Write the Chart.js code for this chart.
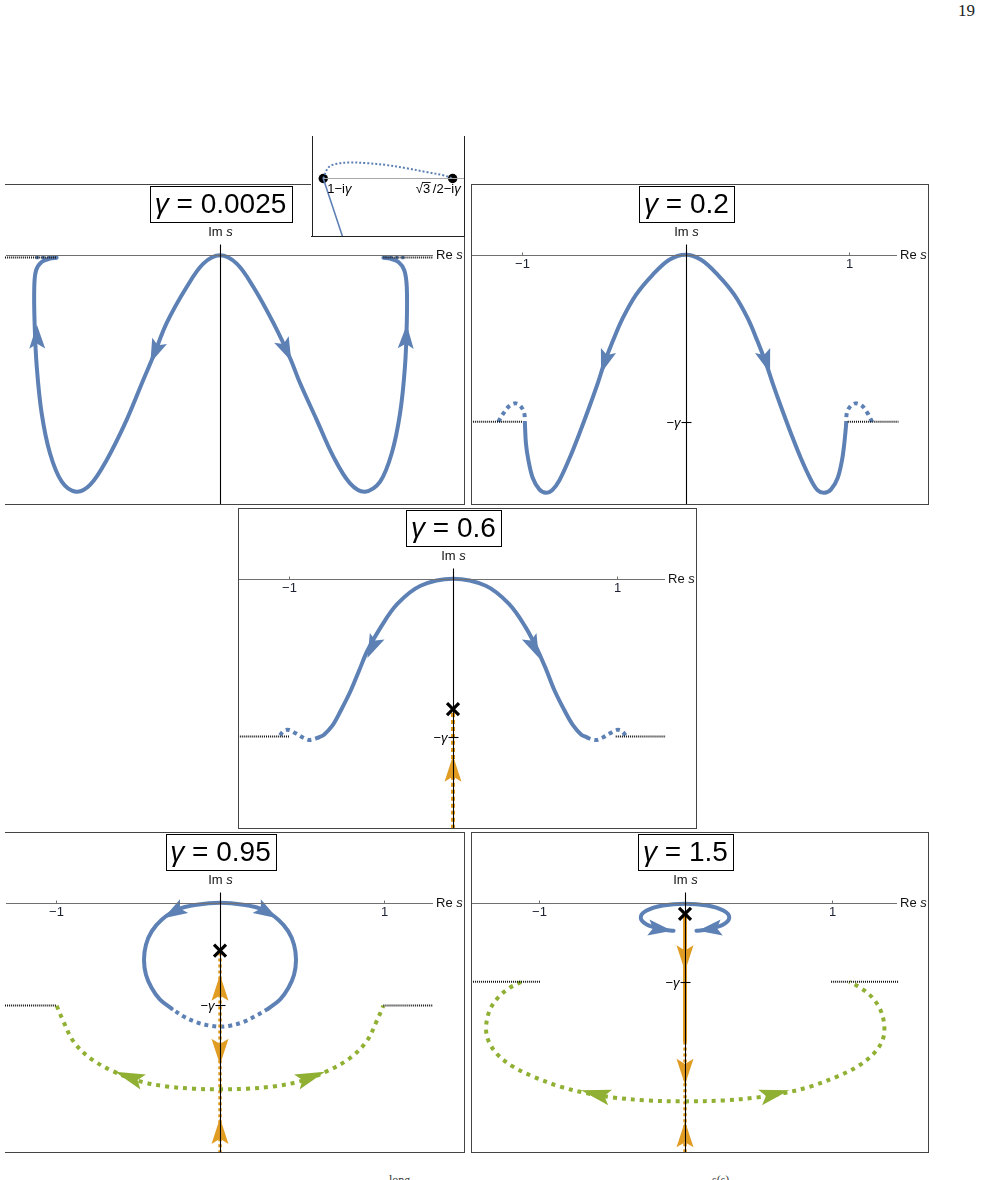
<!DOCTYPE html>
<html>
<head>
<meta charset="utf-8">
<script src="https://cdn.jsdelivr.net/npm/chart.js@4.4.1/dist/chart.umd.min.js"></script>
<style>
html, body { margin: 0; padding: 0; background: #fff; }
body { width: 982px; height: 1180px; position: relative; overflow: hidden; }
canvas { position: absolute; }
#pageno { position: absolute; left: 940px; top: 1px; width: 35px; text-align: right; font: 17px "Liberation Serif", "DejaVu Serif", serif; color: #222; }
.cut { position: absolute; font: 12px "Liberation Serif", serif; color: #333; line-height: 12px; }
</style>
</head>
<body>
<div id="pageno">19</div>
<canvas id="p1" width="460" height="321" style="left:5px;top:184px"></canvas>
<canvas id="p2" width="458" height="321" style="left:471px;top:184px"></canvas>
<canvas id="p3" width="459" height="321" style="left:238px;top:508px"></canvas>
<canvas id="p4" width="460" height="321" style="left:5px;top:832px"></canvas>
<canvas id="p5" width="458" height="321" style="left:471px;top:832px"></canvas>
<canvas id="inset" width="154" height="101" style="left:311px;top:136px;background:#fff"></canvas>
<div class="cut" style="left:389px;top:1174px">long</div>
<div class="cut" style="left:712px;top:1174px">s(s)</div>
<script>
// ---- values (Re s, Im s) ----
const gammas = [0.0025, 0.2, 0.6, 0.95, 1.5];
const titleLabels = ['0.0025', '0.2', '0.6', '0.95', '1.5'];
const reTicks = [-1, 1];
const reTickLabels = ['\u22121', '1'];

// gamma = 0.0025
const p1Curve = [[-0.999,-0.003],[-1.040,-0.004],[-1.091,-0.008],[-1.125,-0.018],[-1.136,-0.038],[-1.134,-0.081],[-1.121,-0.133],[-1.091,-0.189],[-1.040,-0.237],[-0.968,-0.271],[-0.881,-0.283],[-0.795,-0.275],[-0.693,-0.245],[-0.571,-0.197],[-0.469,-0.149],[-0.408,-0.121],[-0.326,-0.081],[-0.204,-0.038],[-0.102,-0.010],[0,0],[0.102,-0.010],[0.204,-0.038],[0.326,-0.081],[0.428,-0.123],[0.489,-0.153],[0.591,-0.197],[0.693,-0.241],[0.795,-0.273],[0.887,-0.283],[0.979,-0.271],[1.050,-0.237],[1.101,-0.189],[1.131,-0.133],[1.142,-0.081],[1.142,-0.038],[1.127,-0.018],[1.091,-0.008],[1.040,-0.004],[0.999,-0.003]];
const p1DotL = [[-0.999,-0.0025],[-1.13,-0.0025]];
const p1DotR = [[0.999,-0.0025],[1.13,-0.0025]];
const p1CutL = [[-1.315,-0.0025],[-0.999,-0.0025]];
const p1CutR = [[0.999,-0.0025],[1.305,-0.0025]];
const p1Arrows = [[-1.12,-0.083,-1.118,-0.113],[-0.426,-0.129,-0.375,-0.105],[0.436,-0.127,0.385,-0.105],[1.142,-0.083,1.135,-0.113]];

// gamma = 0.2
const p2Curve = [[-0.982,-0.204],[-0.976,-0.226],[-0.961,-0.246],[-0.935,-0.267],[-0.894,-0.281],[-0.853,-0.285],[-0.816,-0.282],[-0.771,-0.270],[-0.710,-0.244],[-0.649,-0.214],[-0.588,-0.182],[-0.537,-0.154],[-0.497,-0.130],[-0.446,-0.104],[-0.384,-0.076],[-0.303,-0.048],[-0.201,-0.024],[-0.099,-0.006],[0,0],[0.095,-0.006],[0.197,-0.024],[0.299,-0.048],[0.380,-0.076],[0.441,-0.104],[0.492,-0.130],[0.533,-0.154],[0.584,-0.182],[0.645,-0.214],[0.706,-0.244],[0.768,-0.270],[0.808,-0.282],[0.849,-0.285],[0.890,-0.281],[0.931,-0.267],[0.957,-0.246],[0.971,-0.226],[0.982,-0.204]];
const p2DotL = [[-0.982,-0.204],[-0.986,-0.190],[-1.006,-0.182],[-1.037,-0.178],[-1.077,-0.181],[-1.114,-0.190],[-1.145,-0.200]];
const p2DotR = [[0.982,-0.204],[0.986,-0.190],[1.006,-0.182],[1.039,-0.178],[1.080,-0.181],[1.114,-0.190],[1.141,-0.200]];
const p2CutL = [[-1.312,-0.2],[-0.996,-0.2]];
const p2CutR = [[0.992,-0.2],[1.302,-0.2]];
const p2Arrows = [[-0.517,-0.142,-0.475,-0.117],[0.517,-0.142,0.475,-0.117]];

// gamma = 0.6
const p3Curve = [[-0.819,-0.603],[-0.788,-0.593],[-0.737,-0.559],[-0.686,-0.502],[-0.625,-0.426],[-0.574,-0.350],[-0.523,-0.274],[-0.442,-0.185],[-0.340,-0.096],[-0.198,-0.027],[0,0],[0.200,-0.027],[0.342,-0.096],[0.444,-0.185],[0.519,-0.274],[0.572,-0.350],[0.621,-0.426],[0.682,-0.502],[0.735,-0.559],[0.784,-0.593],[0.817,-0.603]];
const p3DotL = [[-0.819,-0.603],[-0.849,-0.610],[-0.880,-0.613],[-0.920,-0.603],[-0.961,-0.588],[-1.002,-0.575],[-1.032,-0.578],[-1.063,-0.600]];
const p3DotR = [[0.817,-0.603],[0.845,-0.610],[0.878,-0.613],[0.918,-0.603],[0.959,-0.588],[1.000,-0.575],[1.028,-0.578],[1.061,-0.600]];
const p3CutL = [[-1.313,-0.6],[-1.002,-0.6]];
const p3CutR = [[0.994,-0.6],[1.30,-0.6]];
const p3Arrows = [[-0.523,-0.302,-0.462,-0.217],[0.525,-0.302,0.464,-0.217]];
const p3Cross = [[0,-0.496]];
const p3Orange = [[0,-0.51],[0,-0.952]];
const p3OrangeArrows = [[0,-0.673,0,-0.774]];

// gamma = 0.95
const p4Loop = [[-0.295,-0.981],[-0.366,-0.898],[-0.417,-0.790],[-0.452,-0.667],[-0.464,-0.528],[-0.452,-0.389],[-0.417,-0.265],[-0.356,-0.157],[-0.265,-0.065],[-0.142,-0.019],[0,0],[0.142,-0.019],[0.265,-0.065],[0.356,-0.157],[0.417,-0.265],[0.452,-0.389],[0.464,-0.528],[0.452,-0.667],[0.417,-0.790],[0.366,-0.898],[0.295,-0.981]];
const p4LoopDots = [[0.295,-0.981],[0.224,-1.043],[0.142,-1.105],[0.061,-1.139],[0,-1.148],[-0.061,-1.139],[-0.142,-1.108],[-0.224,-1.052],[-0.295,-0.981]];
const p4Green = [[-0.997,-0.954],[-0.956,-1.099],[-0.895,-1.284],[-0.794,-1.438],[-0.651,-1.562],[-0.488,-1.654],[-0.326,-1.701],[-0.163,-1.722],[0,-1.728],[0.163,-1.722],[0.326,-1.701],[0.488,-1.654],[0.651,-1.562],[0.794,-1.438],[0.895,-1.284],[0.956,-1.099],[0.997,-0.954]];
const p4CutL = [[-1.313,-0.951],[-0.997,-0.951]];
const p4CutR = [[0.997,-0.951],[1.302,-0.951]];
const p4Arrows = [[-0.345,-0.145,-0.24,-0.05],[0.35,-0.145,0.245,-0.05]];
const p4GreenArrows = [[-0.641,-1.565,-0.47,-1.66],[0.641,-1.565,0.47,-1.66]];
const p4Cross = [[0,-0.444]];
const p4Orange = [[0,-0.46],[0,-2.318]];
const p4OrangeArrows = [[0,-0.667,0,-0.867],[0,-1.50,0,-1.253],[0,-1.994,0,-2.225]];

// gamma = 1.5
const p5Loop = [[-0.078,-0.534],[-0.151,-0.508],[-0.262,-0.412],[-0.302,-0.281],[-0.262,-0.150],[-0.151,-0.054],[0,-0.019],[0.151,-0.054],[0.262,-0.150],[0.302,-0.281],[0.262,-0.412],[0.151,-0.508],[0.078,-0.534]];
const p5Green = [[-1.119,-1.505],[-1.199,-1.619],[-1.279,-1.809],[-1.336,-2.062],[-1.358,-2.378],[-1.340,-2.631],[-1.279,-2.884],[-1.176,-3.106],[-1.040,-3.295],[-0.858,-3.485],[-0.676,-3.612],[-0.494,-3.694],[-0.266,-3.751],[0,-3.770],[0.268,-3.751],[0.496,-3.694],[0.678,-3.612],[0.860,-3.485],[1.042,-3.295],[1.179,-3.106],[1.281,-2.884],[1.345,-2.631],[1.361,-2.378],[1.338,-2.062],[1.281,-1.809],[1.201,-1.619],[1.122,-1.505]];
const p5CutL = [[-1.461,-1.5],[-0.99,-1.5]];
const p5CutR = [[0.997,-1.5],[1.456,-1.5]];
const p5Arrows = [[-0.088,-0.532,-0.2,-0.49],[0.088,-0.532,0.2,-0.49]];
const p5GreenArrows = [[-0.71,-3.56,-0.52,-3.69],[0.712,-3.56,0.52,-3.69]];
const p5Cross = [[0,-0.21]];
const p5OrangeSolid = [[0,-0.23],[0,-2.63]];
const p5OrangeDots = [[0,-2.63],[0,-4.75]];
const p5OrangeArrows = [[0,-1.303,0,-0.829],[0,-3.454,0,-2.948],[0,-4.149,0,-4.655]];

// inset near 1 - i*gamma (gamma = 0.0025), Re axis runs right to left
const insetArc = [[1,-0.0025],[0.9948,-0.0008],[0.9861,-0.0002],[0.9724,0],[0.9551,-0.0001],[0.9343,-0.0004],[0.9136,-0.0009],[0.8929,-0.0015],[0.8757,-0.002],[0.866,-0.0025]];
const insetDrop = [[1,-0.0025],[0.978,-0.0125]];
const insetLevel = [[1,-0.0025],[0.8532,-0.0025]];
const insetDots = [[1,-0.0025],[0.866,-0.0025]];

// ---- drawing ----
const BLUE = '#5E81B5', ORANGE = '#E19C24', GREEN = '#8FB032';
const FONT = '"Liberation Sans", Arial, sans-serif';

function pts(a) { return a.map(p => ({ x: p[0], y: p[1] })); }

function curve(a, color, w, dash) {
  return {
    data: pts(a), showLine: true, borderColor: color, backgroundColor: color,
    borderWidth: w, borderDash: dash || [], borderCapStyle: dash ? 'butt' : 'round',
    borderJoinStyle: 'round', tension: 0.35, pointRadius: 0, pointHoverRadius: 0, fill: false
  };
}

function mixed(ctx, parts, x, y, align, size) {
  const f = it => (it ? 'italic ' : '') + size + 'px ' + FONT;
  let w = 0;
  parts.forEach(p => { ctx.font = f(p[1]); w += ctx.measureText(p[0]).width; });
  let cx = align === 'center' ? x - w / 2 : align === 'right' ? x - w : x;
  ctx.textAlign = 'left';
  ctx.textBaseline = 'middle';
  const starts = [];
  parts.forEach(p => {
    ctx.font = f(p[1]);
    starts.push([cx, ctx.measureText(p[0]).width]);
    ctx.fillText(p[0], cx, y);
    cx += ctx.measureText(p[0]).width;
  });
  return { w: w, starts: starts };
}

function drawArrow(ctx, tx, ty, hx, hy, len, wid, color) {
  const a = Math.atan2(hy - ty, hx - tx);
  ctx.save();
  ctx.translate(hx, hy);
  ctx.rotate(a);
  ctx.beginPath();
  ctx.moveTo(0, 0);
  ctx.lineTo(-len, wid / 2);
  ctx.lineTo(-len * 0.8, 0);
  ctx.lineTo(-len, -wid / 2);
  ctx.closePath();
  ctx.fillStyle = color;
  ctx.fill();
  ctx.restore();
}

function decor(cfg) {
  return {
    id: 'decor',
    afterDatasetsDraw(chart) {
      const ctx = chart.ctx, X = chart.scales.x, Y = chart.scales.y, A = chart.chartArea;
      const px = v => X.getPixelForValue(v), py = v => Y.getPixelForValue(v);
      const ox = Math.round(px(0)) + 0.5, oy = Math.round(py(0)) + 0.5;
      ctx.save();
      cfg.arrows.forEach(g => g.list.forEach(a =>
        drawArrow(ctx, px(a[2]), py(a[3]), px(a[0]), py(a[1]), g.len, g.wid, g.color)));

      // Re axis
      ctx.strokeStyle = '#707070';
      ctx.lineWidth = 1.2;
      ctx.beginPath(); ctx.moveTo(A.left + 1, oy); ctx.lineTo(A.right - 32, oy); ctx.stroke();
      ctx.fillStyle = '#111';
      mixed(ctx, [['Re ', false], ['s', true]], A.right - 29, oy, 'left', 13);

      // Im axis
      ctx.strokeStyle = '#000';
      ctx.lineWidth = 1.1;
      ctx.beginPath(); ctx.moveTo(ox, oy - 11); ctx.lineTo(ox, A.bottom); ctx.stroke();
      mixed(ctx, [['Im ', false], ['s', true]], ox, oy - 23, 'center', 13);

      if (cfg.ticks) {
        reTicks.forEach((t, i) => {
          const tx = Math.round(px(t)) + 0.5;
          ctx.strokeStyle = '#707070';
          ctx.lineWidth = 1;
          ctx.beginPath(); ctx.moveTo(tx, oy); ctx.lineTo(tx, oy - 3); ctx.stroke();
          ctx.fillStyle = '#1c2233';
          mixed(ctx, [[reTickLabels[i], false]], tx, oy + 9, 'center', 13);
        });
      }
      if (cfg.gammaTick) {
        const gy = Math.round(py(-cfg.gamma)) + 0.5;
        ctx.strokeStyle = '#000';
        ctx.lineWidth = 1.1;
        ctx.beginPath(); ctx.moveTo(ox - 5, gy); ctx.lineTo(ox + 5, gy); ctx.stroke();
        ctx.fillStyle = '#000';
        mixed(ctx, [['\u2212', false], ['\u03b3', true]], ox - 6, gy + 1, 'right', 13);
      }

      cfg.crosses.forEach(c => {
        const cx = px(c[0]), cy = py(c[1]);
        ctx.strokeStyle = '#000';
        ctx.lineWidth = 3.2;
        ctx.lineCap = 'butt';
        ctx.beginPath();
        ctx.moveTo(cx - 6, cy - 6); ctx.lineTo(cx + 6, cy + 6);
        ctx.moveTo(cx + 6, cy - 6); ctx.lineTo(cx - 6, cy + 6);
        ctx.stroke();
      });

      // title box
      ctx.font = 'italic 28px ' + FONT;
      let tw = ctx.measureText('\u03b3').width;
      ctx.font = '28px ' + FONT;
      tw += ctx.measureText(' = ' + cfg.title).width;
      const bw = Math.round(tw + 10), bx = Math.round(ox - bw / 2) + 0.5, by = A.top + 2.5;
      ctx.fillStyle = '#fff';
      ctx.fillRect(bx, by, bw, 36);
      ctx.strokeStyle = '#000';
      ctx.lineWidth = 1;
      ctx.strokeRect(bx, by, bw, 36);
      ctx.fillStyle = '#000';
      mixed(ctx, [['\u03b3', true], [' = ' + cfg.title, false]], ox, by + 19, 'center', 28);

      // frame
      ctx.strokeStyle = '#444';
      ctx.lineWidth = 1;
      ctx.beginPath();
      ctx.moveTo(A.left, A.top + 0.5); ctx.lineTo(A.right, A.top + 0.5);
      ctx.moveTo(A.right - 0.5, A.top); ctx.lineTo(A.right - 0.5, A.bottom);
      ctx.moveTo(A.left, A.bottom - 0.5); ctx.lineTo(A.right, A.bottom - 0.5);
      if (cfg.leftSide) { ctx.moveTo(A.left + 0.5, A.top); ctx.lineTo(A.left + 0.5, A.bottom); }
      ctx.stroke();
      ctx.restore();
    }
  };
}

function makePanel(id, cfg, sets) {
  new Chart(document.getElementById(id), {
    type: 'scatter',
    data: { datasets: sets },
    options: {
      responsive: false, animation: false, events: [],
      layout: { padding: 0, autoPadding: false },
      scales: {
        x: { type: 'linear', min: cfg.x[0], max: cfg.x[1], display: false },
        y: { type: 'linear', min: cfg.y[0], max: cfg.y[1], display: false }
      },
      plugins: { legend: { display: false }, tooltip: { enabled: false } }
    },
    plugins: [decor(cfg)]
  });
}

const CUT = '#111';
const blueArrow = list => ({ list: list, color: BLUE, len: 24, wid: 16 });
const orangeArrow = list => ({ list: list, color: ORANGE, len: 26, wid: 17 });
const greenArrow = list => ({ list: list, color: GREEN, len: 30, wid: 16 });

makePanel('p1', { title: titleLabels[0], gamma: gammas[0], x: [-1.315, 1.498], y: [-0.2990, 0.0854],
  ticks: false, gammaTick: false, leftSide: false, crosses: [], arrows: [blueArrow(p1Arrows)] }, [
  curve(p1CutL, CUT, 2, [1, 1]), curve(p1CutR, CUT, 2, [1, 1]),
  curve(p1DotL, BLUE, 3.5, [3, 3]), curve(p1DotR, BLUE, 3.5, [3, 3]),
  curve(p1Curve, BLUE, 4)
]);

makePanel('p2', { title: titleLabels[1], gamma: gammas[1], x: [-1.312, 1.489], y: [-0.2997, 0.0847],
  ticks: true, gammaTick: true, leftSide: true, crosses: [], arrows: [blueArrow(p2Arrows)] }, [
  curve(p2CutL, CUT, 2, [1, 1]), curve(p2CutR, CUT, 2, [1, 1]),
  curve(p2DotL, BLUE, 4, [4, 4]), curve(p2DotR, BLUE, 4, [4, 4]),
  curve(p2Curve, BLUE, 4)
]);

makePanel('p3', { title: titleLabels[2], gamma: gammas[2], x: [-1.3134, 1.4906], y: [-0.9517, 0.2688],
  ticks: true, gammaTick: true, leftSide: true, crosses: p3Cross,
  arrows: [blueArrow(p3Arrows), orangeArrow(p3OrangeArrows)] }, [
  curve(p3CutL, CUT, 2, [1, 1]), curve(p3CutR, CUT, 2, [1, 1]),
  curve(p3Orange, ORANGE, 4, [4, 3]),
  curve(p3DotL, BLUE, 4, [4, 4]), curve(p3DotR, BLUE, 4, [4, 4]),
  curve(p3Curve, BLUE, 4)
]);

makePanel('p4', { title: titleLabels[3], gamma: gammas[3], x: [-1.3126, 1.4957], y: [-2.3176, 0.6546],
  ticks: true, gammaTick: true, leftSide: false, crosses: p4Cross,
  arrows: [blueArrow(p4Arrows), greenArrow(p4GreenArrows), orangeArrow(p4OrangeArrows)] }, [
  curve(p4CutL, CUT, 2, [1, 1]), curve(p4CutR, CUT, 2, [1, 1]),
  curve(p4Green, GREEN, 4, [4, 5]),
  curve(p4Orange, ORANGE, 3.5, [3, 3]),
  curve(p4LoopDots, BLUE, 4, [4, 4]),
  curve(p4Loop, BLUE, 4)
]);

makePanel('p5', { title: titleLabels[4], gamma: gammas[4], x: [-1.4608, 1.6655], y: [-4.7495, 1.3416],
  ticks: true, gammaTick: true, leftSide: true, crosses: p5Cross,
  arrows: [blueArrow(p5Arrows), greenArrow(p5GreenArrows), orangeArrow(p5OrangeArrows)] }, [
  curve(p5CutL, CUT, 2, [1, 1]), curve(p5CutR, CUT, 2, [1, 1]),
  curve(p5Green, GREEN, 4, [4, 5]),
  curve(p5OrangeDots, ORANGE, 3.5, [3, 3]),
  curve(p5OrangeSolid, ORANGE, 4),
  curve(p5Loop, BLUE, 4)
]);

// inset
new Chart(document.getElementById('inset'), {
  type: 'scatter',
  data: { datasets: [
    Object.assign(curve(insetLevel, '#a8a8a8', 1), { tension: 0 }),
    curve(insetArc, BLUE, 2, [2, 2]),
    Object.assign(curve(insetDrop, BLUE, 1.6), { tension: 0 }),
    { data: pts(insetDots), showLine: false, pointRadius: 4.7, pointBackgroundColor: '#000', pointBorderWidth: 0 }
  ] },
  options: {
    responsive: false, animation: false, events: [],
    layout: { padding: 0, autoPadding: false },
    scales: {
      x: { type: 'linear', min: 0.8532, max: 1.0127, reverse: true, display: false },
      y: { type: 'linear', min: -0.01164, max: 0.00414, display: false }
    },
    plugins: { legend: { display: false }, tooltip: { enabled: false } }
  },
  plugins: [{
    id: 'insetDecor',
    afterDatasetsDraw(chart) {
      const ctx = chart.ctx, X = chart.scales.x, Y = chart.scales.y, A = chart.chartArea;
      ctx.save();
      ctx.strokeStyle = '#222';
      ctx.lineWidth = 1;
      ctx.beginPath();
      ctx.moveTo(A.left + 1.5, A.top); ctx.lineTo(A.left + 1.5, A.bottom);
      ctx.moveTo(A.left, A.bottom - 0.5); ctx.lineTo(A.right, A.bottom - 0.5);
      ctx.moveTo(A.right - 0.5, A.top); ctx.lineTo(A.right - 0.5, A.bottom);
      ctx.stroke();
      ctx.fillStyle = '#000';
      const d1x = X.getPixelForValue(insetDots[0][0]), d1y = Y.getPixelForValue(insetDots[0][1]);
      const d2x = X.getPixelForValue(insetDots[1][0]);
      mixed(ctx, [['1\u2212i', false], ['\u03b3', true]], d1x + 4, d1y + 11, 'left', 13);
      const r = mixed(ctx, [['\u221a', false], ['3', false], ['\u2009/2\u2212i', false], ['\u03b3', true]], d2x + 8, d1y + 11, 'right', 13);
      const s3 = r.starts[1];
      ctx.strokeStyle = '#000';
      ctx.lineWidth = 0.9;
      ctx.beginPath(); ctx.moveTo(s3[0] - 1, d1y + 4); ctx.lineTo(s3[0] + s3[1] + 0.5, d1y + 4); ctx.stroke();
      ctx.restore();
    }
  }]
});
</script>
</body>
</html>
